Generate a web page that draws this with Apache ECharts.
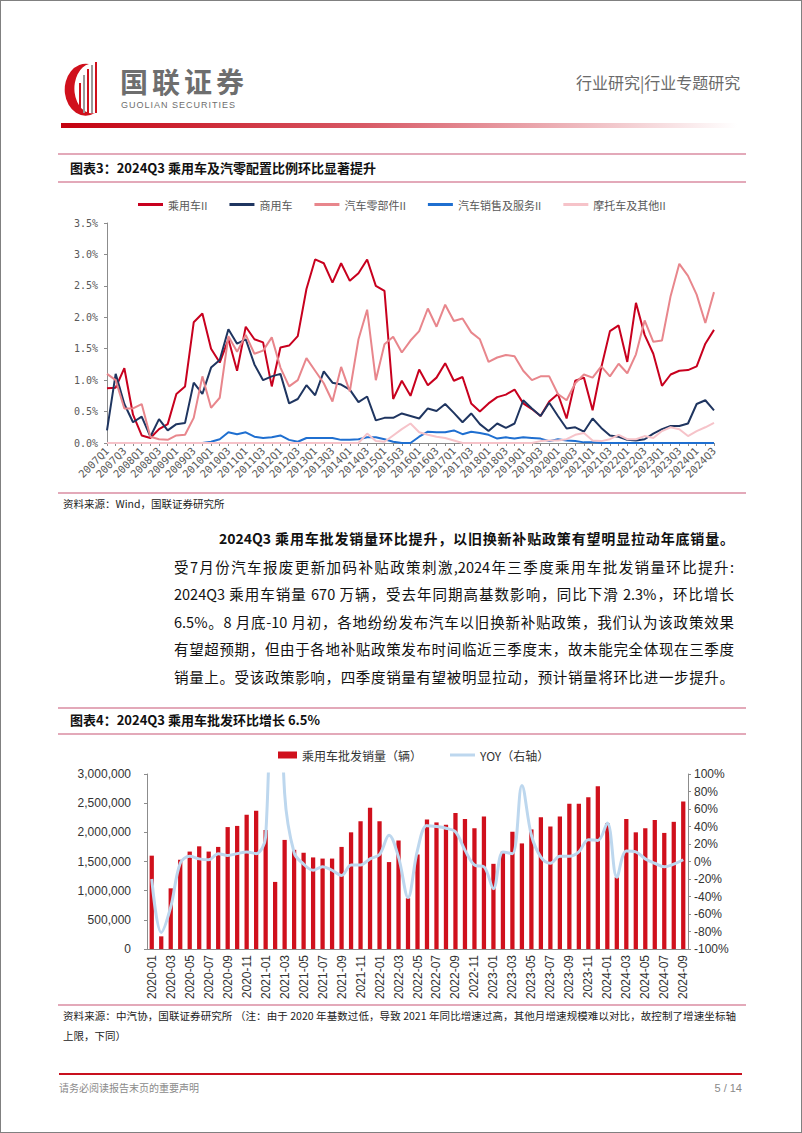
<!DOCTYPE html>
<html><head><meta charset="utf-8">
<script src="https://cdn.jsdelivr.net/npm/echarts@6/dist/echarts.min.js"></script>
<style>
html,body{margin:0;padding:0;background:#fff;}
#page{position:relative;width:802px;height:1133px;box-sizing:border-box;border:1px solid #808080;overflow:hidden;font-family:"Noto Sans CJK SC",sans-serif;color:#111;}
.abs{position:absolute;white-space:nowrap;}
.hl{position:absolute;left:57px;width:688px;height:2px;background:#e3a9b9;}
.title{position:absolute;left:69px;font-size:13px;font-weight:bold;line-height:16px;white-space:nowrap;}
.just{position:absolute;text-align:justify;text-align-last:justify;}
.body{left:173px;width:560px;font-size:14.5px;line-height:20px;}
.chart{position:absolute;left:0;width:802px;}
</style></head>
<body><div id="page">
<svg class="abs" style="left:58px;top:60px" width="50" height="56" viewBox="0 0 50 56">
  <path d="M30 3 A21 26 0 1 0 36 52 A17 24 0 0 1 30 3 Z" fill="#d0101c"/>
  <rect x="20" y="22" width="2" height="30" fill="#d0101c"/>
  <rect x="24" y="14" width="2" height="38" fill="#9a9a9a"/>
  <rect x="28" y="8" width="2" height="44" fill="#d0101c"/>
  <rect x="32" y="4" width="2" height="48" fill="#9a9a9a"/>
  <rect x="36" y="1" width="2" height="51" fill="#d0101c"/>
</svg>
<div class="abs" style="left:119px;top:66px;font-size:28px;line-height:28px;letter-spacing:4px;color:#6e6e6e;font-weight:bold;">国联证券</div>
<div class="abs" style="left:120px;top:100px;font-size:9px;line-height:9px;letter-spacing:1px;color:#6e6e6e;font-family:'Liberation Sans',sans-serif;">GUOLIAN SECURITIES</div>
<div class="abs" style="left:575px;top:71px;font-size:16px;line-height:20px;color:#6a6a6a;">行业研究|行业专题研究</div>
<div class="abs" style="left:60px;top:122px;width:676px;height:5px;background:linear-gradient(to right,#c4000f,#d85a66 45%,#fff);"></div>
<div class="hl" style="top:152px;"></div>
<div class="title" style="top:159px;">图表3：2024Q3 乘用车及汽零配置比例环比显著提升</div>
<div class="hl" style="top:180px;"></div>
<div id="c1" class="chart" style="top:185px;height:310px;"></div>
<div class="hl" style="top:491px;"></div>
<div class="abs" style="left:62px;top:495px;font-size:10.5px;line-height:16px;color:#222;">资料来源：Wind，国联证券研究所</div>

<div class="just" style="left:218px;width:515px;top:527px;font-size:14px;line-height:20px;font-weight:bold;">2024Q3 乘用车批发销量环比提升，以旧换新补贴政策有望明显拉动年底销量。</div>
<div class="just body" style="top:556px;">受7月份汽车报废更新加码补贴政策刺激,2024年三季度乘用车批发销量环比提升:</div>
<div class="just body" style="top:583px;">2024Q3 乘用车销量 670 万辆，受去年同期高基数影响，同比下滑 2.3%，环比增长</div>
<div class="just body" style="top:611px;">6.5%。8 月底-10 月初，各地纷纷发布汽车以旧换新补贴政策，我们认为该政策效果</div>
<div class="just body" style="top:638px;">有望超预期，但由于各地补贴政策发布时间临近三季度末，故未能完全体现在三季度</div>
<div class="just body" style="top:666px;">销量上。受该政策影响，四季度销量有望被明显拉动，预计销量将环比进一步提升。</div>

<div class="hl" style="top:706px;"></div>
<div class="title" style="top:711px;">图表4：2024Q3 乘用车批发环比增长 6.5%</div>
<div class="hl" style="top:732px;"></div>
<div id="c2" class="chart" style="top:738px;height:272px;"></div>
<div class="hl" style="top:1003px;"></div>
<div class="just" style="left:62px;width:673px;top:1007px;font-size:10.5px;line-height:16px;color:#222;">资料来源：中汽协，国联证券研究所 （注：由于 2020 年基数过低，导致 2021 年同比增速过高，其他月增速规模难以对比，故控制了增速坐标轴</div>
<div class="abs" style="left:62px;top:1027px;font-size:10.5px;line-height:16px;color:#222;">上限，下同）</div>

<div class="abs" style="left:58px;top:1072px;width:683px;height:2px;background:#c8101e;"></div>
<div class="abs" style="left:58px;top:1080px;font-size:10px;line-height:14px;color:#8a8a8a;">请务必阅读报告末页的重要声明</div>
<div class="abs" style="left:700px;top:1080px;width:41px;text-align:right;font-size:11px;line-height:14px;color:#8a8a8a;font-family:'Liberation Sans',sans-serif;">5 / 14</div>
</div>
<script>
// ---------- Chart 1: quarterly allocation ratios (%) ----------
const quarters = ['2007Q1','2007Q2','2007Q3','2007Q4','2008Q1','2008Q2','2008Q3','2008Q4','2009Q1','2009Q2','2009Q3','2009Q4',
'2010Q1','2010Q2','2010Q3','2010Q4','2011Q1','2011Q2','2011Q3','2011Q4','2012Q1','2012Q2','2012Q3','2012Q4',
'2013Q1','2013Q2','2013Q3','2013Q4','2014Q1','2014Q2','2014Q3','2014Q4','2015Q1','2015Q2','2015Q3','2015Q4',
'2016Q1','2016Q2','2016Q3','2016Q4','2017Q1','2017Q2','2017Q3','2017Q4','2018Q1','2018Q2','2018Q3','2018Q4',
'2019Q1','2019Q2','2019Q3','2019Q4','2020Q1','2020Q2','2020Q3','2020Q4','2021Q1','2021Q2','2021Q3','2021Q4',
'2022Q1','2022Q2','2022Q3','2022Q4','2023Q1','2023Q2','2023Q3','2023Q4','2024Q1','2024Q2','2024Q3'];
const passengerCar = [0.87,0.88,1.19,0.45,0.12,0.08,0.22,0.30,0.78,0.90,1.92,2.06,1.50,1.28,1.65,1.15,1.85,1.65,1.60,0.90,
1.52,1.55,1.70,2.45,2.92,2.86,2.55,2.86,2.58,2.70,2.92,2.50,2.42,0.70,0.99,0.75,1.17,0.92,1.04,1.27,
0.99,1.05,0.63,0.50,0.63,0.73,0.77,0.85,0.63,0.54,0.43,0.66,0.78,0.39,0.99,1.04,0.52,1.20,1.78,1.87,
1.29,2.23,1.72,1.42,0.91,1.09,1.15,1.16,1.22,1.58,1.80];
const commercialCar = [0.20,1.10,0.62,0.33,0.42,0.10,0.38,0.20,0.30,0.32,0.96,0.78,1.20,1.32,1.81,1.58,1.65,1.25,1.00,1.06,
1.10,0.63,0.70,0.92,0.76,1.14,0.96,0.93,0.85,0.65,0.74,0.36,0.40,0.40,0.47,0.43,0.39,0.55,0.51,0.62,
0.48,0.33,0.47,0.30,0.19,0.31,0.24,0.31,0.68,0.55,0.43,0.64,0.43,0.23,0.25,0.18,0.39,0.24,0.12,0.10,
0.05,0.04,0.06,0.15,0.22,0.27,0.27,0.31,0.62,0.68,0.52];
const autoParts = [1.10,1.00,0.55,0.55,0.62,0.10,0.06,0.05,0.12,0.13,0.40,1.06,0.56,0.72,1.70,1.45,1.72,1.42,1.47,1.68,
1.20,0.90,1.00,1.35,1.15,0.95,0.66,1.21,0.82,1.65,2.12,1.00,1.57,1.69,1.44,1.63,1.78,2.14,1.85,2.20,
1.94,1.98,1.76,1.65,1.29,1.36,1.40,1.38,1.15,1.00,1.06,1.06,0.78,0.68,0.95,1.09,1.04,1.22,1.06,1.26,
1.11,1.41,1.95,1.61,1.63,2.34,2.85,2.66,2.36,1.91,2.40];
const autoDealer = [0,0,0,0,0,0,0,0,0,0,0,0,0.02,0.06,0.17,0.14,0.17,0.10,0.08,0.09,
0.12,0.05,0.02,0.08,0.08,0.08,0.08,0.05,0.05,0.06,0.09,0.09,0.06,0.02,0,0,0.10,0.18,0.17,0.17,
0.20,0.14,0.18,0.16,0.13,0.07,0.09,0.07,0.09,0.08,0.07,0.03,0.06,0.04,0.03,0.01,0.01,0,0,0,
0,0,0,0,0,0,0,0,0,0,0];
const motoOther = [0,0,0,0,0,0,0,0,0,0,0,0,0,0,0,0,0,0,0,0,
0,0,0,0,0,0,0,0,0,0,0.15,0.03,0.02,0.12,0.22,0.31,0.17,0.13,0.10,0.08,
0.04,0,0,0,0,0,0,0,0,0,0.03,0.04,0.04,0.06,0.13,0.16,0.04,0.03,0.06,0.13,
0.06,0.06,0.11,0.08,0.19,0.25,0.22,0.11,0.19,0.25,0.32];
const names1 = ['乘用车II','商用车','汽车零部件II','汽车销售及服务II','摩托车及其他II'];
const colors1 = ['#c8001e','#1f3560','#e8868c','#1f6fd0','#f6c3c9'];
const data1 = [passengerCar, commercialCar, autoParts, autoDealer, motoOther];

// ---------- Chart 2: monthly passenger car wholesale ----------
const months = ['2020-01','2020-02','2020-03','2020-04','2020-05','2020-06','2020-07','2020-08','2020-09','2020-10','2020-11','2020-12',
'2021-01','2021-02','2021-03','2021-04','2021-05','2021-06','2021-07','2021-08','2021-09','2021-10','2021-11','2021-12',
'2022-01','2022-02','2022-03','2022-04','2022-05','2022-06','2022-07','2022-08','2022-09','2022-10','2022-11','2022-12',
'2023-01','2023-02','2023-03','2023-04','2023-05','2023-06','2023-07','2023-08','2023-09','2023-10','2023-11','2023-12',
'2024-01','2024-02','2024-03','2024-04','2024-05','2024-06','2024-07','2024-08','2024-09'];
const wholesale = [1600000,217000,1040000,1530000,1670000,1760000,1670000,1750000,2090000,2110000,2300000,2370000,
2040000,1150000,1870000,1700000,1650000,1570000,1550000,1550000,1750000,2000000,2190000,2420000,
2190000,1490000,1860000,870000,1620000,2220000,2170000,2130000,2330000,2230000,2070000,2270000,
1460000,1670000,2010000,1810000,2050000,2260000,2100000,2270000,2490000,2490000,2600000,2790000,
2160000,1230000,2230000,2000000,2070000,2210000,1990000,2180000,2530000];
const yoy = [-20,-81,-52,-2,6,3,2,9,7,9,11,9,
28,370,78,10,-3,-10,-6,-10,-16,-4,-4,3,
8,30,5,-41,13,41,40,38,34,13,-4,-6,
-31,11,9,87,30,5,-2,6,6,11,25,24,
44,-18,12,11,3,-2,-6,-3,2];

const mono = 'DejaVu Sans Mono';
const cjk = 'Noto Sans CJK SC';
const arial = 'Liberation Sans';

const c1 = echarts.init(document.getElementById('c1'), null, {renderer:'svg'});
c1.setOption({
  animation:false,
  legend:{left:132, top:8, icon:'rect', itemWidth:25, itemHeight:3, itemGap:22,
    textStyle:{fontSize:11, color:'#595959', fontFamily:cjk}},
  grid:{left:106, right:89, top:37, bottom:53},
  xAxis:{type:'category', data:quarters, boundaryGap:false,
    axisLine:{lineStyle:{color:'#8c8c8c'}},
    axisTick:{show:true, interval:0, length:3, lineStyle:{color:'#8c8c8c'}},
    axisLabel:{interval:1, rotate:45, fontSize:10.5, color:'#595959', fontFamily:mono, margin:6}},
  yAxis:{type:'value', min:0, max:3.5, interval:0.5, splitLine:{show:false},
    axisLine:{show:true, lineStyle:{color:'#8c8c8c'}},
    axisTick:{show:true, length:3, lineStyle:{color:'#8c8c8c'}},
    axisLabel:{formatter:v=>v.toFixed(1)+'%', fontSize:10, color:'#595959', fontFamily:mono, margin:9}},
  series:names1.map((n,i)=>({name:n, type:'line', data:data1[i], symbol:'none',
    color:colors1[i], lineStyle:{width:2, color:colors1[i]}}))
});

const c2 = echarts.init(document.getElementById('c2'), null, {renderer:'svg'});
c2.setOption({
  animation:false,
  legend:[
    {left:272, top:5, data:['乘用车批发销量（辆）'], icon:'rect', itemWidth:19, itemHeight:7,
      textStyle:{fontSize:12, color:'#333', fontFamily:cjk}},
    {left:444, top:5, data:['YOY（右轴）'], icon:'rect', itemWidth:25, itemHeight:3,
      textStyle:{fontSize:12, color:'#333', fontFamily:cjk}}
  ],
  grid:{left:146, right:115, top:35, bottom:62},
  xAxis:{type:'category', data:months,
    axisLine:{lineStyle:{color:'#8c8c8c'}}, axisTick:{show:false},
    axisLabel:{interval:1, rotate:90, fontSize:12, color:'#333', fontFamily:arial, margin:6}},
  yAxis:[
    {type:'value', min:0, max:3000000, interval:500000, splitLine:{show:false},
      axisLine:{show:true, lineStyle:{color:'#8c8c8c'}}, axisTick:{show:true, length:3},
      axisLabel:{formatter:v=>v.toLocaleString('en-US'), fontSize:12, color:'#333', fontFamily:arial, margin:16}},
    {type:'value', min:-100, max:100, interval:20, splitLine:{show:false},
      axisLine:{show:true, lineStyle:{color:'#8c8c8c'}}, axisTick:{show:true, length:3},
      axisLabel:{formatter:'{value}%', fontSize:12, color:'#333', fontFamily:arial, margin:6}}
  ],
  series:[
    {name:'乘用车批发销量（辆）', type:'bar', data:wholesale, barWidth:'45%', color:'#d0101c', itemStyle:{color:'#d0101c'}},
    {name:'YOY（右轴）', type:'line', yAxisIndex:1, data:yoy, symbol:'none', smooth:0.35, clip:true,
      color:'#bdd7ee', lineStyle:{width:3, color:'#bdd7ee'}}
  ]
});
</script>
</body></html>
